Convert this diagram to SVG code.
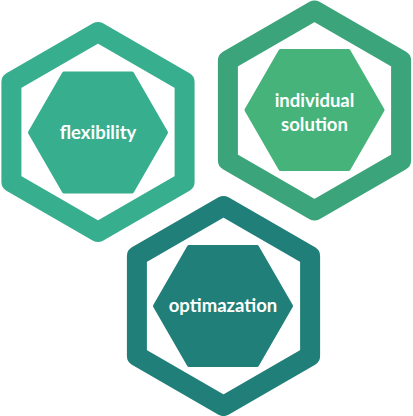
<svg xmlns="http://www.w3.org/2000/svg" xmlns:xlink="http://www.w3.org/1999/xlink" width="413" height="416" viewBox="0 0 413 416">
  <style>
    .ring { fill: none; stroke-width: 20; stroke-linejoin: round; }
    .core { stroke-width: 4; stroke-linejoin: round; }
    .label { font-family: "Lato", "Open Sans", "Liberation Sans", sans-serif; font-weight: 700; font-size: 18.5px; fill: #ffffff; text-anchor: middle; }
  </style>
  <defs>
    <path id="outerHex" d="M0,-100 L86.6,-50 L86.6,50 L0,100 L-86.6,50 L-86.6,-50 Z"/>
    <path id="innerHex" d="M-68,0 L-34,-58.9 L34,-58.9 L68,0 L34,58.9 L-34,58.9 Z"/>
  </defs>
  <rect width="413" height="416" fill="#ffffff"/>
  <g id="connectors"></g>
  <g id="node-flexibility">
    <use xlink:href="#outerHex" href="#outerHex" x="98" y="132" class="ring" stroke="#37ae8e"/>
    <use xlink:href="#innerHex" href="#innerHex" x="98" y="132.5" class="core" fill="#37ae8e" stroke="#37ae8e"/>
    <text class="label" x="98" y="138.5">flexibility</text>
  </g>
  <g id="node-individual-solution">
    <use xlink:href="#outerHex" href="#outerHex" x="314.5" y="110.5" class="ring" stroke="#3ba47b"/>
    <use xlink:href="#innerHex" href="#innerHex" x="314.5" y="110" class="core" fill="#45b37a" stroke="#45b37a"/>
    <text class="label" x="314.5" y="106.5">individual</text>
    <text class="label" x="314.5" y="131">solution</text>
  </g>
  <g id="node-optimazation">
    <use xlink:href="#outerHex" href="#outerHex" x="223.5" y="306" class="ring" stroke="#207f78"/>
    <use xlink:href="#innerHex" href="#innerHex" x="223" y="306" class="core" fill="#207f78" stroke="#207f78"/>
    <text class="label" x="223" y="312">optimazation</text>
  </g>
</svg>
